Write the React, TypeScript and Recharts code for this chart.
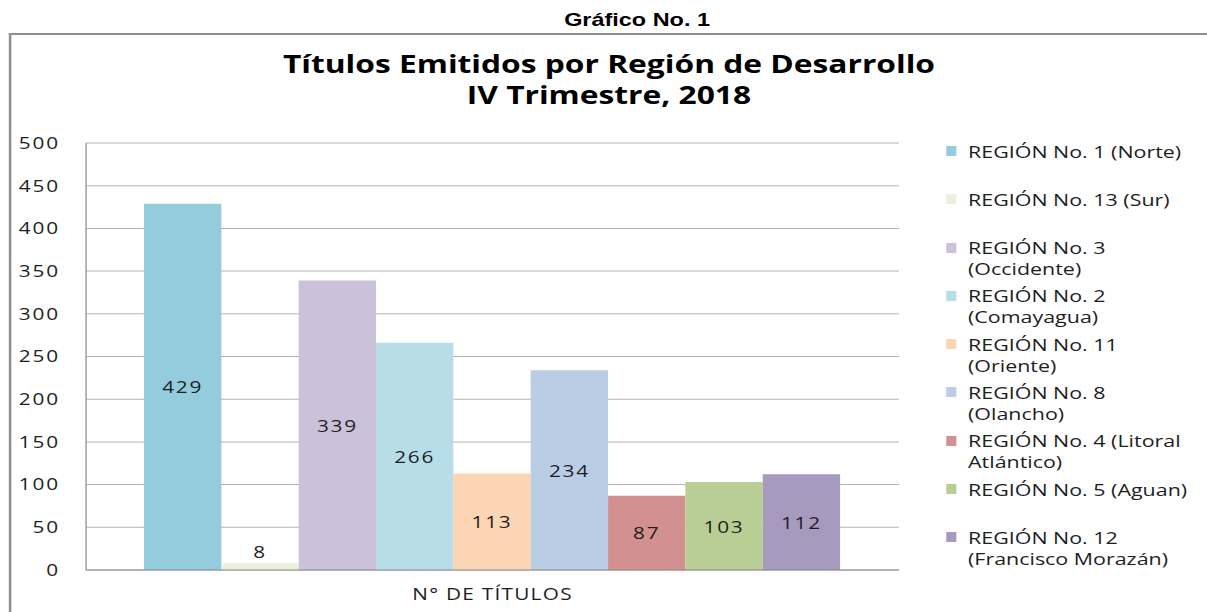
import React from 'react';
import { BarChart, Bar, XAxis, YAxis, CartesianGrid, Legend, LabelList } from 'recharts';

const headerText = 'Gráfico No. 1';
const titleLines = ['Títulos Emitidos por Región de Desarrollo', 'IV Trimestre, 2018'];
const category = 'N° DE TÍTULOS';
const regions = [
  'REGIÓN No. 1 (Norte)',
  'REGIÓN No. 13 (Sur)',
  'REGIÓN No. 3 (Occidente)',
  'REGIÓN No. 2 (Comayagua)',
  'REGIÓN No. 11 (Oriente)',
  'REGIÓN No. 8 (Olancho)',
  'REGIÓN No. 4 (Litoral Atlántico)',
  'REGIÓN No. 5 (Aguan)',
  'REGIÓN No. 12 (Francisco Morazán)',
];
const values = [429, 8, 339, 266, 113, 234, 87, 103, 112];
const colors = ['#93CDDD', '#EBF1DE', '#CCC1DA', '#B7DEE8', '#FCD5B5', '#B9CDE5', '#D29190', '#B9CE95', '#A899BE'];
const yTicks = [0, 50, 100, 150, 200, 250, 300, 350, 400, 450, 500];

const data = [
  regions.reduce((row: any, _r, i) => {
    row['r' + i] = values[i];
    return row;
  }, { name: category } as any),
];

const FONT = "'Open Sans', sans-serif";
const SX = 1.26;
const W = 957;
const H = 612;

const renderLabel = (props: any) => {
  const vb = props.viewBox || {};
  const x = props.x ?? vb.x;
  const y = props.y ?? vb.y;
  const width = props.width ?? vb.width;
  const height = props.height ?? vb.height;
  const value = props.value;
  const cx = x + width / 2;
  const small = Math.abs(height) < 24;
  const cy = small ? y - 12 : y + height / 2;
  return (
    <text
      x={cx}
      y={cy}
      textAnchor="middle"
      dominantBaseline="central"
      fill="#1e1e1e"
      fontSize={16.5}
      fontFamily={FONT}
      letterSpacing={1.4}
    >
      {value}
    </text>
  );
};

const renderLegend = (props: any) => {
  const payload = props.payload || [];
  return (
    <div style={{ fontFamily: FONT, fontSize: 17, color: '#1e1e1e' }}>
      {payload.map((p: any, i: number) => (
        <div key={i} style={{ position: 'relative', height: 48.3, width: 210 }}>
          <div
            style={{
              position: 'absolute',
              left: 10.8,
              top: 5.5,
              width: 7.9,
              height: 10,
              background: p.color,
            }}
          />
          <div style={{ position: 'absolute', left: 28.3, top: 0, width: 181, lineHeight: '21px', whiteSpace: 'normal' }}>
            {p.value}
          </div>
        </div>
      ))}
    </div>
  );
};

export default function App() {
  return (
    <div style={{ position: 'absolute', left: 0, top: 0, width: 1207, height: 612, overflow: 'hidden', background: '#fff' }}>
      <div
        style={{
          position: 'absolute',
          left: 0,
          top: 0,
          width: W,
          height: H,
          transform: `scaleX(${SX})`,
          transformOrigin: '0 0',
        }}
      >
        <div
          style={{
            position: 'absolute',
            left: 405.6,
            top: 10,
            width: 200,
            textAlign: 'center',
            fontFamily: "'Liberation Sans', Arial, sans-serif",
            fontWeight: 'bold',
            fontSize: 18.6,
            lineHeight: '20px',
            color: '#000',
          }}
        >
          {headerText}
        </div>
        <div
          style={{
            position: 'absolute',
            left: 7,
            top: 33,
            width: W,
            height: H,
            borderLeft: '2px solid #8e8e8e',
            borderTop: '2px solid #8e8e8e',
          }}
        />
        <div
          style={{
            position: 'absolute',
            left: 183.3,
            top: 48,
            width: 600,
            textAlign: 'center',
            fontFamily: FONT,
            fontWeight: 'bold',
            fontSize: 25.2,
            lineHeight: '31px',
            color: '#000',
          }}
        >
          {titleLines.map((t, i) => (
            <div key={i}>{t}</div>
          ))}
        </div>
        <div style={{ position: 'absolute', left: 0, top: 0 }}>
          <BarChart
            width={W}
            height={H}
            data={data}
            margin={{ top: 143, right: W - 713.5, bottom: 12, left: 18.3 }}
            barSize={61.38}
            barGap={0}
          >
            <CartesianGrid vertical={false} stroke="#b4b4b4" />
            <XAxis
              dataKey="name"
              height={30}
              axisLine={{ stroke: '#8c8c8c' }}
              tickLine={false}
              tickSize={0}
              tickMargin={18.3}
              tick={{ fill: '#1e1e1e', fontSize: 16.5, fontFamily: FONT, letterSpacing: 1 }}
            />
            <YAxis
              width={50}
              domain={[0, 500]}
              ticks={yTicks}
              interval={0}
              axisLine={{ stroke: '#8c8c8c' }}
              tickLine={false}
              tickSize={0}
              tickMargin={20.7}
              tick={{ fill: '#1e1e1e', fontSize: 16.5, fontFamily: FONT, letterSpacing: 1.5 }}
            />
            <Legend
              layout="vertical"
              align="center"
              verticalAlign="middle"
              itemSorter={(item: any) => regions.indexOf(item.value)}
              content={renderLegend}
              wrapperStyle={{ left: 740, top: 140.5, width: 215, height: 440 }}
            />
            {regions.map((r, i) => (
              <Bar key={r} dataKey={'r' + i} name={r} fill={colors[i]} isAnimationActive={false}>
                <LabelList dataKey={'r' + i} content={renderLabel} />
              </Bar>
            ))}
          </BarChart>
        </div>
      </div>
    </div>
  );
}
